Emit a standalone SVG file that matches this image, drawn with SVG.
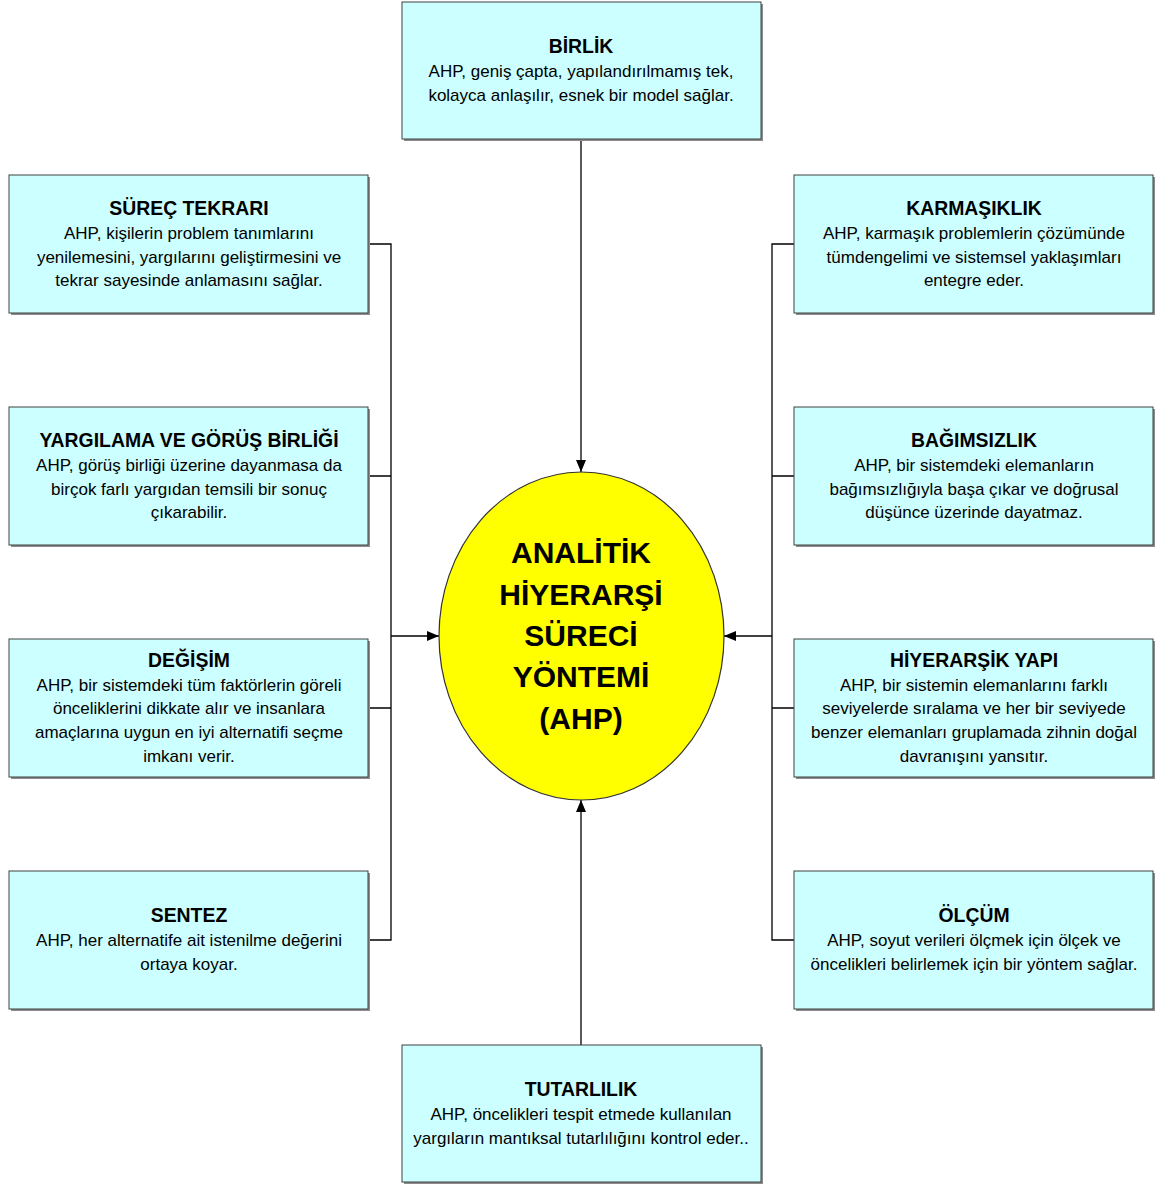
<svg xmlns="http://www.w3.org/2000/svg" width="1159" height="1184" viewBox="0 0 1159 1184">
<style>
.sh{fill:#8c8c8c}
.bx{fill:#ccffff;stroke:#404040;stroke-width:1}
.t{font-family:"Liberation Sans",Arial,sans-serif;font-size:19.4px;font-weight:bold;text-anchor:middle;fill:#000}
.b{font-family:"Liberation Sans",Arial,sans-serif;font-size:17px;text-anchor:middle;fill:#000}
.c{font-family:"Liberation Sans",Arial,sans-serif;font-size:30px;font-weight:bold;text-anchor:middle;fill:#000}
.ln{fill:none;stroke:#000;stroke-width:1.3}
</style>
<defs>
<marker id="ar" markerWidth="12" markerHeight="10" refX="12" refY="5" orient="auto" markerUnits="userSpaceOnUse">
<path d="M0,0 L12,5 L0,10 Z" fill="#000"/>
</marker>
</defs>
<rect width="1159" height="1184" fill="#fff"/>
<g id="connectors">
<path class="ln" d="M581,139 V472" marker-end="url(#ar)"/>
<path class="ln" d="M581,1045 V800" marker-end="url(#ar)"/>
<path class="ln" d="M368,244 H391 V940 H368 M368,476 H391 M368,708 H391"/>
<path class="ln" d="M391,636 H439" marker-end="url(#ar)"/>
<path class="ln" d="M794,244 H772 V940 H794 M794,476 H772 M794,708 H772"/>
<path class="ln" d="M772,636 H724" marker-end="url(#ar)"/>
</g>
<g id="center">
<ellipse cx="581.5" cy="636" rx="142.5" ry="164" fill="#ffff00" stroke="#333" stroke-width="1.2"/>
<text class="c" x="581" y="563">ANALİTİK</text>
<text class="c" x="581" y="605">HİYERARŞİ</text>
<text class="c" x="581" y="646">SÜRECİ</text>
<text class="c" x="581" y="687">YÖNTEMİ</text>
<text class="c" x="581" y="729">(AHP)</text>
</g>
<g id="birlik">
<rect class="sh" x="404" y="4" width="359" height="137"/>
<rect class="bx" x="402" y="2" width="359" height="137"/>
<text class="t" x="581" y="53">BİRLİK</text>
<text class="b" x="581" y="77">AHP, geniş çapta, yapılandırılmamış tek,</text>
<text class="b" x="581" y="101">kolayca anlaşılır, esnek bir model sağlar.</text>
</g>
<g id="surec">
<rect class="sh" x="11" y="177" width="359" height="138"/>
<rect class="bx" x="9" y="175" width="359" height="138"/>
<text class="t" x="189" y="215">SÜREÇ TEKRARI</text>
<text class="b" x="189" y="239">AHP, kişilerin problem tanımlarını</text>
<text class="b" x="189" y="263">yenilemesini, yargılarını geliştirmesini ve</text>
<text class="b" x="189" y="286">tekrar sayesinde anlamasını sağlar.</text>
</g>
<g id="yargilama">
<rect class="sh" x="11" y="409" width="359" height="138"/>
<rect class="bx" x="9" y="407" width="359" height="138"/>
<text class="t" x="189" y="447">YARGILAMA VE GÖRÜŞ BİRLİĞİ</text>
<text class="b" x="189" y="471">AHP, görüş birliği üzerine dayanmasa da</text>
<text class="b" x="189" y="495">birçok farlı yargıdan temsili bir sonuç</text>
<text class="b" x="189" y="518">çıkarabilir.</text>
</g>
<g id="degisim">
<rect class="sh" x="11" y="641" width="359" height="138"/>
<rect class="bx" x="9" y="639" width="359" height="138"/>
<text class="t" x="189" y="667">DEĞİŞİM</text>
<text class="b" x="189" y="691">AHP, bir sistemdeki tüm faktörlerin göreli</text>
<text class="b" x="189" y="714">önceliklerini dikkate alır ve insanlara</text>
<text class="b" x="189" y="738">amaçlarına uygun en iyi alternatifi seçme</text>
<text class="b" x="189" y="762">imkanı verir.</text>
</g>
<g id="sentez">
<rect class="sh" x="11" y="873" width="359" height="138"/>
<rect class="bx" x="9" y="871" width="359" height="138"/>
<text class="t" x="189" y="922">SENTEZ</text>
<text class="b" x="189" y="946">AHP, her alternatife ait istenilme değerini</text>
<text class="b" x="189" y="970">ortaya koyar.</text>
</g>
<g id="karmasiklik">
<rect class="sh" x="796" y="177" width="359" height="138"/>
<rect class="bx" x="794" y="175" width="359" height="138"/>
<text class="t" x="974" y="215">KARMAŞIKLIK</text>
<text class="b" x="974" y="239">AHP, karmaşık problemlerin çözümünde</text>
<text class="b" x="974" y="263">tümdengelimi ve sistemsel yaklaşımları</text>
<text class="b" x="974" y="286">entegre eder.</text>
</g>
<g id="bagimsizlik">
<rect class="sh" x="796" y="409" width="359" height="138"/>
<rect class="bx" x="794" y="407" width="359" height="138"/>
<text class="t" x="974" y="447">BAĞIMSIZLIK</text>
<text class="b" x="974" y="471">AHP, bir sistemdeki elemanların</text>
<text class="b" x="974" y="495">bağımsızlığıyla başa çıkar ve doğrusal</text>
<text class="b" x="974" y="518">düşünce üzerinde dayatmaz.</text>
</g>
<g id="hiyerarsik">
<rect class="sh" x="796" y="641" width="359" height="138"/>
<rect class="bx" x="794" y="639" width="359" height="138"/>
<text class="t" x="974" y="667">HİYERARŞİK YAPI</text>
<text class="b" x="974" y="691">AHP, bir sistemin elemanlarını farklı</text>
<text class="b" x="974" y="714">seviyelerde sıralama ve her bir seviyede</text>
<text class="b" x="974" y="738">benzer elemanları gruplamada zihnin doğal</text>
<text class="b" x="974" y="762">davranışını yansıtır.</text>
</g>
<g id="olcum">
<rect class="sh" x="796" y="873" width="359" height="138"/>
<rect class="bx" x="794" y="871" width="359" height="138"/>
<text class="t" x="974" y="922">ÖLÇÜM</text>
<text class="b" x="974" y="946">AHP, soyut verileri ölçmek için ölçek ve</text>
<text class="b" x="974" y="970">öncelikleri belirlemek için bir yöntem sağlar.</text>
</g>
<g id="tutarlilik">
<rect class="sh" x="404" y="1047" width="359" height="137"/>
<rect class="bx" x="402" y="1045" width="359" height="137"/>
<text class="t" x="581" y="1096">TUTARLILIK</text>
<text class="b" x="581" y="1120">AHP, öncelikleri tespit etmede kullanılan</text>
<text class="b" x="581" y="1144">yargıların mantıksal tutarlılığını kontrol eder..</text>
</g>
</svg>
